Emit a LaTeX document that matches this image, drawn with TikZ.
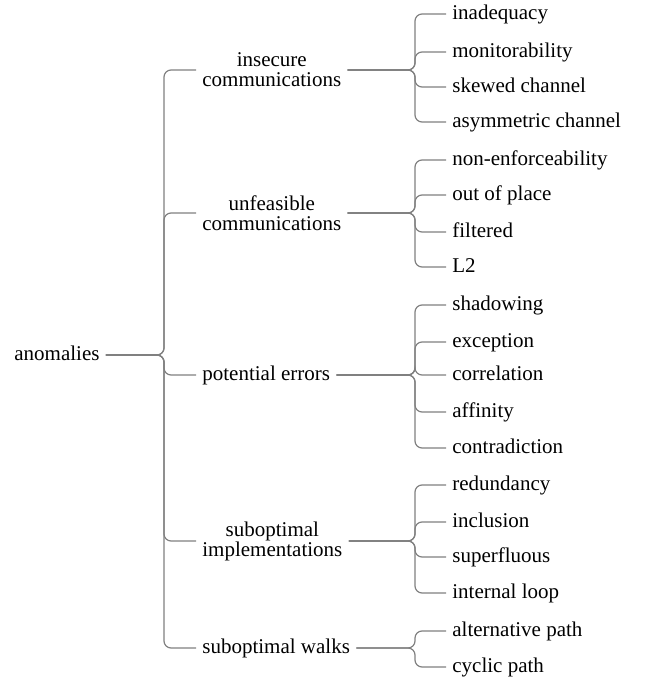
\documentclass[tikz,border=0pt]{standalone}
\usepackage{fontspec}
\setmainfont{Liberation Serif}

\begin{document}
\begin{tikzpicture}[x=0.5pt, y=-0.5pt,
    branch/.style={black!50, line width=0.6pt, rounded corners=3.5pt},
    lbl/.style={font=\fontsize{10.5}{10}\selectfont, inner sep=3pt, anchor=west},
    leaf/.style={lbl, text height=1.5ex, text depth=.3ex},
    group/.style={lbl, align=center}]

        \useasboundingbox (0, 0) rectangle (644, 679);

        \node[leaf] (anom) at (8, 355) {anomalies};
        \coordinate (jroot) at (164, 355);

        \node[group] (insec) at (196, 70) {insecure\\communications};
        \node[group] (unfeas) at (196, 213) {unfeasible\\communications};
        \node[leaf] (poterr) at (196, 375) {potential errors};
        \node[group] (subimpl) at (196, 541) {suboptimal\\implementations};
        \node[leaf] (subwalk) at (196, 648) {suboptimal walks};

        \foreach \g in {insec, unfeas, poterr, subimpl, subwalk} {
            \draw[branch] (anom.east) -- (jroot) |- (\g.west);
        }

        \coordinate (jinsec) at (415, 70);
        \coordinate (junfeas) at (415, 213);
        \coordinate (jpoterr) at (415, 375);
        \coordinate (jsubimpl) at (415, 541);
        \coordinate (jsubwalk) at (415, 648);

        \foreach \n/\y/\t in {inad/14/inadequacy, moni/52/monitorability, skew/87/skewed channel, asym/122/asymmetric channel} {
            \node[leaf] (\n) at (446, \y) {\t};
            \draw[branch] (insec.east) -- (jinsec) |- (\n.west);
        }

        \foreach \n/\y/\t in {nonenf/160/non-enforceability, outpl/195/out of place, filt/232/filtered, ltwo/267/L2} {
            \node[leaf] (\n) at (446, \y) {\t};
            \draw[branch] (unfeas.east) -- (junfeas) |- (\n.west);
        }

        \foreach \n/\y/\t in {shad/305/shadowing, excp/342/exception, corr/375/correlation, affn/412/affinity, contr/448/contradiction} {
            \node[leaf] (\n) at (446, \y) {\t};
            \draw[branch] (poterr.east) -- (jpoterr) |- (\n.west);
        }

        \foreach \n/\y/\t in {redund/485/redundancy, incl/522/inclusion, superf/557/superfluous, intloop/593/internal loop} {
            \node[leaf] (\n) at (446, \y) {\t};
            \draw[branch] (subimpl.east) -- (jsubimpl) |- (\n.west);
        }

        \foreach \n/\y/\t in {altpath/631/alternative path, cycpath/667/cyclic path} {
            \node[leaf] (\n) at (446, \y) {\t};
            \draw[branch] (subwalk.east) -- (jsubwalk) |- (\n.west);
        }
    \end{tikzpicture}
\end{document}
